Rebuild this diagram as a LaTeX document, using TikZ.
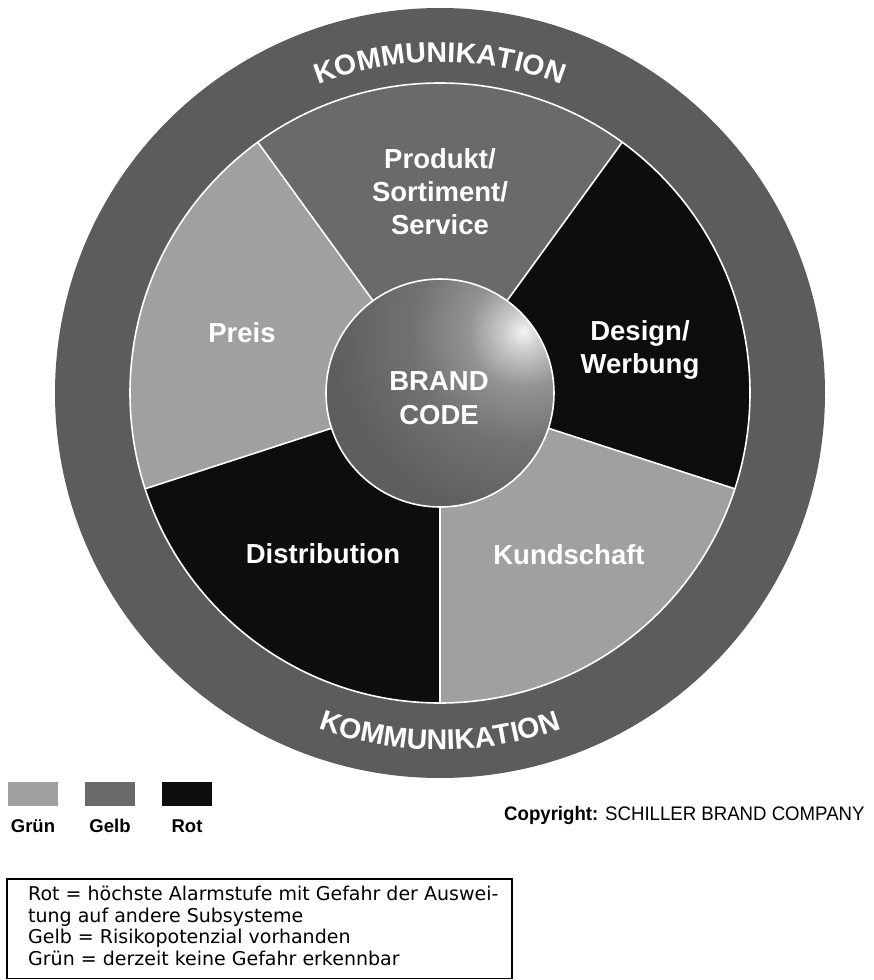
\documentclass[tikz,border=0pt]{standalone}
\usepackage{fontspec}
\setmainfont{Liberation Sans}
\newfontfamily\boxfont{DejaVu Sans}
\newfontfamily\copyfont[FakeStretch=0.95]{Liberation Sans}
\usetikzlibrary{decorations.text}

\definecolor{ringc}{HTML}{5C5C5C}
\definecolor{gelbc}{HTML}{6A6A6A}
\definecolor{gruenc}{HTML}{A0A0A0}
\definecolor{rotc}{HTML}{0D0D0D}
\definecolor{basec}{HTML}{5E5E5E}
\definecolor{hlzero}{HTML}{F4F4F4}
\definecolor{hlone}{HTML}{CACACA}
\definecolor{hltwo}{HTML}{939393}
\definecolor{hlthree}{HTML}{727272}

\pgfdeclareradialshading{hilite}{\pgfpoint{0bp}{0bp}}{color(0bp)=(hlzero); color(2bp)=(hlone); color(5.5bp)=(hltwo); color(11bp)=(hlthree); color(19bp)=(basec); color(50bp)=(basec)}

\newcommand\mykomfont{\fontsize{28.5}{30}\selectfont\bfseries}

\begin{document}
\begin{tikzpicture}[x=1pt,y=-1pt,
  sepline/.style={white, line width=1.6pt},
  lbl/.style={text=white, font=\fontsize{27.5}{33}\selectfont\bfseries, inner sep=0pt, anchor=base},
  leglbl/.style={text=black, font=\fontsize{18.5}{20}\selectfont\bfseries, inner sep=0pt, anchor=base},
  boxline/.style={text=black, font=\boxfont\fontsize{19}{22}\selectfont, inner sep=0pt, anchor=base west}]
\useasboundingbox (0,0) rectangle (874,980);
\coordinate (C) at (440,393);

% outer ring
\fill[ringc] (C) circle[radius=385pt];

% sectors
\fill[gelbc]  (C) -- ++(54:310pt)  arc[start angle=54,  end angle=126, radius=310pt] -- cycle;
\fill[gruenc] (C) -- ++(126:310pt) arc[start angle=126, end angle=198, radius=310pt] -- cycle;
\fill[rotc]   (C) -- ++(198:310pt) arc[start angle=198, end angle=270, radius=310pt] -- cycle;
\fill[gruenc] (C) -- ++(270:310pt) arc[start angle=270, end angle=342, radius=310pt] -- cycle;
\fill[rotc]   (C) -- ++(-18:310pt) arc[start angle=-18, end angle=54,  radius=310pt] -- cycle;

% separators
\foreach \a in {54,126,198,270,342} \draw[sepline] (C) -- ++(\a:310pt);
\draw[sepline] (C) circle[radius=310pt];

% centre ball
\begin{scope}
  \clip (C) circle[radius=114pt];
  \fill[basec] (C) circle[radius=114pt];
  \shade[shading=hilite] (523,332) circle[radius=250pt];
\end{scope}
\draw[sepline] (C) circle[radius=114pt];

% ring texts
\path[decorate, decoration={text along path, text={|\color{white}\mykomfont|KOMMUNIKATION}, text align=center}]
  ([shift={(140:331pt)}]C) arc[start angle=140, end angle=40, radius=331pt];
\path[decorate, decoration={text along path, text={|\color{white}\mykomfont|KOMMUNIKATION}, text align=center}]
  ([shift={(220:357pt)}]C) arc[start angle=220, end angle=320, radius=357pt];

% labels
\node[lbl] (prod1) at (440,168) {Produkt/};
\node[lbl] (prod2) at (440,201) {Sortiment/};
\node[lbl] (prod3) at (440,234) {Service};
\node[lbl] (preis) at (242,342) {Preis};
\node[lbl] (des1) at (640,340) {Design/};
\node[lbl] (des2) at (640,373) {Werbung};
\node[lbl] (brand1) at (439,390) {BRAND};
\node[lbl] (brand2) at (439,424) {CODE};
\node[lbl] (distr) at (323,563) {Distribution};
\node[lbl] (kund) at (569,564) {Kundschaft};

% legend squares
\fill[gruenc] (8,782) rectangle (58,806);
\fill[gelbc] (85,782) rectangle (135,806);
\fill[rotc] (162,782) rectangle (212,806);
\node[leglbl] (lgruen) at (33,832) {Grün};
\node[leglbl] (lgelb) at (110,832) {Gelb};
\node[leglbl] (lrot) at (187,832) {Rot};

% copyright
\node[anchor=base west, inner sep=0pt, font=\copyfont\fontsize{19.6}{22}\selectfont] (copy) at (504,820) {{\bfseries Copyright:} SCHILLER BRAND COMPANY};

% explanation box
\draw[line width=1.2pt] (7,879) rectangle (512,978.5);
\node[boxline] (bl1) at (28,900) {Rot = höchste Alarmstufe mit Gefahr der Auswei-};
\node[boxline] (bl2) at (28,922) {tung auf andere Subsysteme};
\node[boxline] (bl3) at (28,943) {Gelb = Risikopotenzial vorhanden};
\node[boxline] (bl4) at (28,965) {Grün = derzeit keine Gefahr erkennbar};
\end{tikzpicture}
\end{document}
